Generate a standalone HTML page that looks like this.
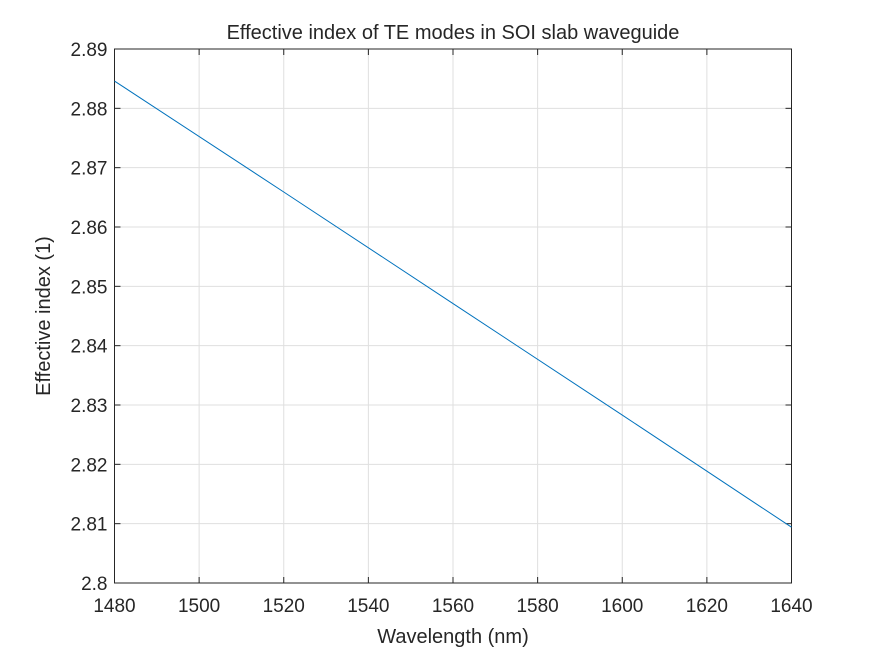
<!DOCTYPE html>
<html><head><meta charset="utf-8"><style>
body{margin:0;background:#fff;}
svg text{font-family:"Liberation Sans",Arial,sans-serif;fill:#262626;}
</style></head><body>
<svg id="chart" width="875" height="656" xmlns="http://www.w3.org/2000/svg">
<rect x="0" y="0" width="875" height="656" fill="#fff"/>
<g id="grid"></g>
<g id="axes"></g>
<polyline id="series" fill="none" stroke="#0072BD" stroke-width="1"/>
<text x="453" y="39" font-size="20" text-anchor="middle">Effective index of TE modes in SOI slab waveguide</text>
<text x="453" y="643" font-size="20" text-anchor="middle">Wavelength (nm)</text>
<text transform="translate(50,316) rotate(-90)" font-size="20" text-anchor="middle">Effective index (1)</text>
</svg>
<script>
const xTicks=[1480,1500,1520,1540,1560,1580,1600,1620,1640];
const yTicks=[2.8,2.81,2.82,2.83,2.84,2.85,2.86,2.87,2.88,2.89];
const yTickLabels=["2.8","2.81","2.82","2.83","2.84","2.85","2.86","2.87","2.88","2.89"];
const wavelengths=[1480,1520,1560,1600,1640];
const neff=[2.8846,2.8659,2.8471,2.8283,2.8094];
const L=114.5,R=791.5,T=49,B=583;
const X=v=>L+(v-1480)/(1640-1480)*(R-L);
const Y=v=>B-(v-2.8)/(2.89-2.8)*(B-T);
const NS="http://www.w3.org/2000/svg";
const grid=document.getElementById('grid'),axes=document.getElementById('axes');
function mk(tag,attrs,parent){const e=document.createElementNS(NS,tag);for(const k in attrs)e.setAttribute(k,attrs[k]);parent.appendChild(e);return e;}
xTicks.forEach(t=>{const x=X(t);
 const g=mk('line',{x1:x,x2:x,y1:T,y2:B,stroke:'#dfdfdf','stroke-width':1},grid);
 
 
 mk('line',{x1:x,x2:x,y1:B,y2:B-6,stroke:'#262626'},axes);
 mk('line',{x1:x,x2:x,y1:T,y2:T+6,stroke:'#262626'},axes);
 const tx=mk('text',{x:x,y:B+29,'font-size':19,'text-anchor':'middle'},axes);tx.textContent=t;
 
 
});
yTicks.forEach((t,i)=>{const y=Y(t);
 const g=mk('line',{x1:L,x2:R,y1:y,y2:y,stroke:'#dfdfdf','stroke-width':1},grid);
 
 
 mk('line',{x1:L,x2:L+6,y1:y,y2:y,stroke:'#262626'},axes);
 mk('line',{x1:R,x2:R-6,y1:y,y2:y,stroke:'#262626'},axes);
 const tx=mk('text',{x:L-7,y:y+7,'font-size':19,'text-anchor':'end'},axes);tx.textContent=yTickLabels[i];
 
 
});
const box=mk('rect',{x:L,y:T,width:R-L,height:B-T,fill:'none',stroke:'#262626','stroke-width':1},axes);


document.getElementById('series').setAttribute('points',wavelengths.map((w,i)=>X(w)+','+Y(neff[i])).join(' '));
</script>
</body></html>
